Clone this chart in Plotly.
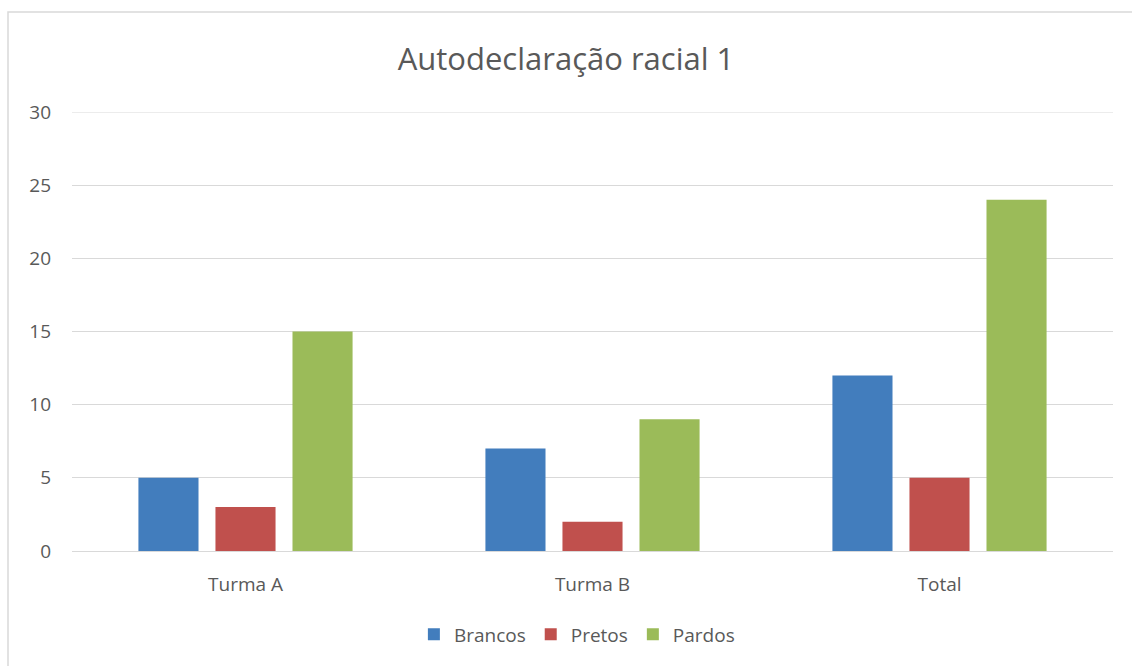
import plotly.graph_objects as go

categories = ["Turma A", "Turma B", "Total"]
brancos = [5, 7, 12]
pretos = [3, 2, 5]
pardos = [15, 9, 24]
y_ticks = [0, 5, 10, 15, 20, 25, 30]

text_color = "#595959"
grid_color = "#d9d9d9"
font_family = "Open Sans, Liberation Sans, sans-serif"

fig = go.Figure()
for name, vals, color in [
    ("Brancos", brancos, "#427DBD"),
    ("Pretos", pretos, "#C0504D"),
    ("Pardos", pardos, "#9BBB59"),
]:
    fig.add_trace(go.Bar(x=categories, y=vals, name=name,
                         marker=dict(color=color, line=dict(width=0))))

fig.update_layout(
    width=1132, height=666,
    margin=dict(l=72, r=19, t=112, b=115),
    paper_bgcolor="white", plot_bgcolor="white",
    barmode="group", bargap=0.334, bargroupgap=0.22,
    font=dict(family=font_family, color=text_color, size=19),
    title=dict(text="Autodeclaração racial 1", x=0.5, xanchor="center",
               y=1 - 59 / 666, yanchor="middle",
               font=dict(size=31, color=text_color, family=font_family)),
    xaxis=dict(showline=False, showgrid=False, ticks="", ticklabelstandoff=20,
               tickfont=dict(size=19, color=text_color)),
    yaxis=dict(range=[y_ticks[0], y_ticks[-1]], tickvals=y_ticks, showgrid=True,
               gridcolor=grid_color, gridwidth=1, zeroline=True,
               zerolinecolor=grid_color, zerolinewidth=1,
               showline=False, ticks="", ticklabelstandoff=20,
               tickfont=dict(size=19, color=text_color)),
    legend=dict(orientation="h", x=0.485, xanchor="center", y=-0.19, yanchor="middle",
                font=dict(size=19, color=text_color), itemwidth=30,
                traceorder="normal"),
    shapes=[
        # chart-area frame
        dict(type="rect", xref="paper", yref="paper",
             x0=(8 - 72) / 1041, x1=1.1, y0=-0.4, y1=(551 - 12) / 439,
             line=dict(color=grid_color, width=1.5), layer="below"),
        # gridline at the top of the value axis
        dict(type="line", xref="paper", yref="y", x0=0, x1=1,
             y0=y_ticks[-1], y1=y_ticks[-1],
             line=dict(color=grid_color, width=1), layer="below"),
    ],
    showlegend=True,
)

fig.write_html("out.html")
